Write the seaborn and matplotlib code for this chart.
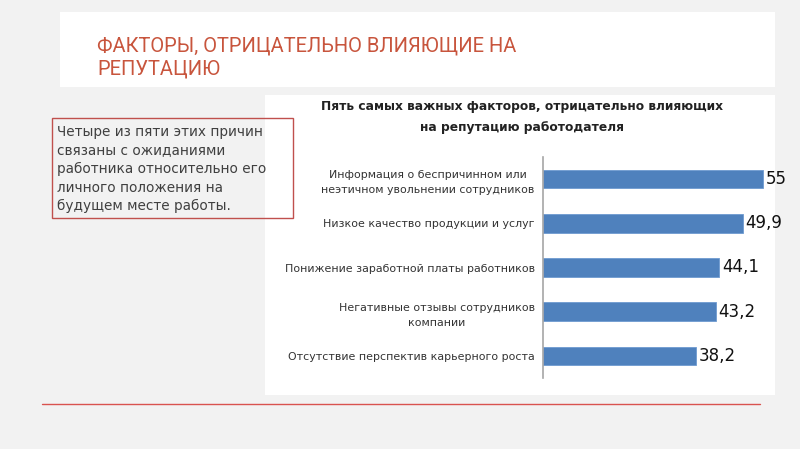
import matplotlib
matplotlib.use("Agg")
import matplotlib.pyplot as plt
import seaborn as sns
import pandas as pd
from matplotlib.patches import Rectangle
from matplotlib.lines import Line2D

# данные
factors = [
    "Информация о беспричинном или\nнеэтичном увольнении сотрудников",
    "Низкое качество продукции и услуг",
    "Понижение заработной платы работников",
    "Негативные отзывы сотрудников\nкомпании",
    "Отсутствие перспектив карьерного роста",
]
values = [55, 49.9, 44.1, 43.2, 38.2]
value_labels = ["55", "49,9", "44,1", "43,2", "38,2"]

page_title = "ФАКТОРЫ, ОТРИЦАТЕЛЬНО ВЛИЯЮЩИЕ НА\nРЕПУТАЦИЮ"
chart_title = "Пять самых важных факторов, отрицательно влияющих\nна репутацию работодателя"
note_text = ("Четыре из пяти этих причин\nсвязаны с ожиданиями\n"
             "работника относительно его\nличного положения на\n"
             "будущем месте работы.")

sns.set_theme(style="white")
plt.rcParams["font.family"] = ["DejaVu Sans"]

W, H = 800, 449
fig = plt.figure(figsize=(8, 4.49), dpi=100, facecolor="#f2f2f2")

def px_rect(x0, y0, x1, y1, **kw):
    # прямоугольник в пикселях (начало сверху слева)
    r = Rectangle((x0 / W, 1 - y1 / H), (x1 - x0) / W, (y1 - y0) / H,
                  transform=fig.transFigure, zorder=-5, **kw)
    fig.patches.append(r)

# фон: белые панели
px_rect(60, 12, 775, 87, facecolor="white", edgecolor="none")
px_rect(265, 95, 775, 395, facecolor="white", edgecolor="none")
px_rect(52, 118, 293, 218, facecolor="none", edgecolor="#c0504d", linewidth=1.0)

fig.lines.append(Line2D([42 / W, 760 / W], [1 - 404 / H, 1 - 404 / H],
                        transform=fig.transFigure, color="#d9534f", linewidth=1.0))

fig.text(97 / W, 1 - 57.5 / H, page_title, color="#c8553d", fontsize=14.5,
         family=["Roboto", "DejaVu Sans"], va="center", ha="left",
         linespacing=1.3)

fig.text(57 / W, 1 - 169 / H, note_text, color="#404040", fontsize=9.8,
         va="center", ha="left", linespacing=1.42)

fig.text(522 / W, 1 - 117 / H, chart_title, color="#222222", fontsize=8.8,
         fontweight="bold", va="center", ha="center", linespacing=1.75)

df = pd.DataFrame({"factor": factors, "value": values})

ax = fig.add_axes([543 / W, 1 - 378 / H, (790 - 543) / W, (378 - 157) / H])
ax.set_facecolor("none")
sns.barplot(data=df, x="value", y="factor", orient="h", color="#4f81bd",
            saturation=1, width=0.42, edgecolor="#6f9bd0", linewidth=0.6, ax=ax)
ax.set_xlim(0, (790 - 543) / 4)
ax.set_ylim(4.5, -0.5)
ax.set_xlabel("")
ax.set_ylabel("")
ax.set_xticks([])
for s in ["top", "right", "bottom"]:
    ax.spines[s].set_visible(False)
ax.spines["left"].set_color("#a6a6a6")
ax.spines["left"].set_linewidth(1.2)
ax.tick_params(axis="y", length=0, pad=6, labelsize=7.9, labelcolor="#333333")
for lbl in ax.get_yticklabels():
    lbl.set_horizontalalignment("right")
    lbl.set_multialignment("center")
    lbl.set_linespacing(1.6)

for i, (v, t) in enumerate(zip(values, value_labels)):
    ax.text(v + 0.6, i, t, va="center", ha="left", fontsize=12, color="#111111")

fig.savefig("out.png", dpi=100, facecolor=fig.get_facecolor())
